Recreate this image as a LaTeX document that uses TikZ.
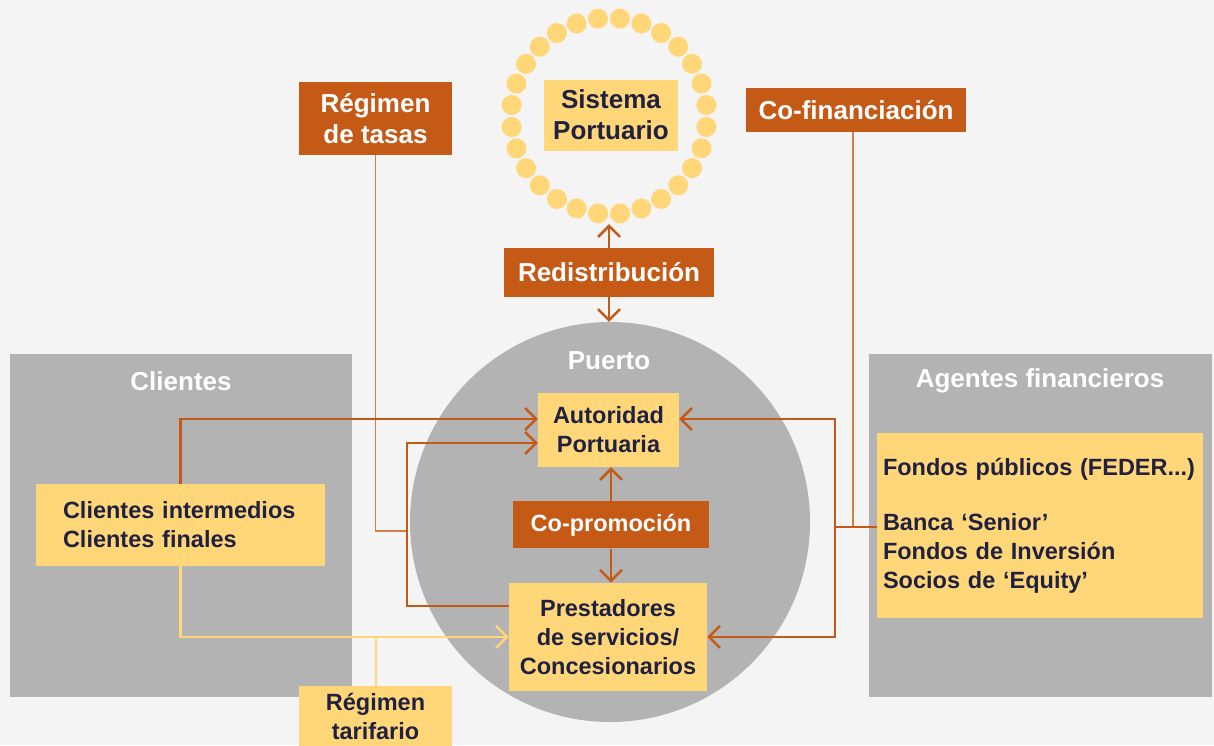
\documentclass[tikz,border=0pt]{standalone}
\usepackage{fontspec}
\setmainfont{Liberation Sans}
\usepackage{tikz}
\usetikzlibrary{arrows.meta,positioning}
\usepackage{xcolor}
\definecolor{cBack}{RGB}{244,244,244}
\definecolor{cPanel}{RGB}{179,179,179}
\definecolor{cYellow}{RGB}{255,215,121}
\definecolor{cOrange}{RGB}{197,90,23}
\definecolor{cThin}{RGB}{214,126,72}
\definecolor{cNavy}{RGB}{32,32,64}
\newcommand{\fBig}{\fontsize{26}{31}\selectfont\bfseries}
\newcommand{\fBase}{\fontsize{23.5}{29}\selectfont\bfseries}
\tikzset{
  basebox/.style={rectangle,inner sep=0pt,align=center,font=\fBase,text=cNavy},
  yelnode/.style={basebox,fill=cYellow},
  orgnode/.style={basebox,fill=cOrange,text=white,font=\fBig},
  panel/.style={rectangle,fill=cPanel,inner sep=0pt},
  title/.style={text=white,font=\fBig},
  arr/.style={-{Straight Barb[length=11pt,width=22pt]},line width=2.5pt,color=cOrange},
  conn/.style={line width=2.5pt,color=cOrange},
  tline/.style={line width=1.6pt,color=cThin},
  yarr/.style={-{Straight Barb[length=11pt,width=22pt]},line width=2.5pt,color=cYellow},
  yline/.style={line width=2pt,color=cYellow}
}
\begin{document}
\begin{tikzpicture}[x=1pt,y=-1pt]

  \useasboundingbox (0,0) rectangle (1214,745);
  \fill[cBack] (0,0) rectangle (1214,745);

  % side panels
  \node[panel,minimum width=342pt,minimum height=343pt] (clp) at (181,525.5) {};
  \node[panel,minimum width=343pt,minimum height=343pt] (agp) at (1040.5,525.5) {};
  \node[title] at (181,381) {Clientes};
  \node[title] at (1040,381) {Agentes financieros};

  % port circle
  \node[circle,fill=cPanel,minimum size=400pt,inner sep=0pt] (pto) at (610,522) {};
  \node[title] at (609,361) {Puerto};

  % port system ring of dots
  \node[circle,minimum size=216pt,inner sep=0pt] (ring) at (609,116) {};
  \foreach \k in {0,...,27}
    \fill[cYellow] (ring.center) ++({96.4+\k*360/28}:98) circle (10pt);
  \node[yelnode,font=\fBig,minimum width=134pt,minimum height=71pt] (sp) at (611,115)
      {Sistema\\Portuario};

  \node[orgnode,minimum width=153pt,minimum height=73pt] (rt) at (375.5,118.5)
      {Régimen\\de tasas};
  \node[orgnode,minimum width=220pt,minimum height=44pt] (cf) at (856,110)
      {Co-financiación};
  \node[orgnode,minimum width=210pt,minimum height=49pt] (rd) at (609,272.5)
      {Redistribución};

  \node[yelnode,minimum width=141pt,minimum height=74pt] (ap) at (608.5,430)
      {Autoridad\\Portuaria};
  \node[orgnode,font=\fBase,minimum width=196pt,minimum height=47pt,
        below=34pt of ap.south,anchor=north,xshift=2.5pt] (cp) {Co-promoción};
  \node[yelnode,minimum width=198pt,minimum height=108pt,
        below=34pt of cp.south,anchor=north,xshift=-3pt] (ps)
      {Prestadores\\de servicios/\\Concesionarios};

  \node[yelnode,align=left,text width=235pt,inner xsep=27pt,minimum height=82pt] (cli)
      at (180.5,525) {Clientes intermedios\\Clientes finales};
  \node[yelnode,align=left,text width=314pt,inner xsep=6pt,minimum height=185pt] (fp)
      at (1040,525.5)
      {Fondos públicos (FEDER...)\\[26pt]
       Banca ‘Senior’\\Fondos de Inversión\\Socios de ‘Equity’};

  \node[yelnode,minimum width=153pt,minimum height=61pt] (rtar) at (375.5,716.5)
      {Régimen\\tarifario};

  % connectors
  \coordinate (lp) at (407,531);
  \coordinate (fj) at (835,527);
  \draw[tline] (rt.south) |- (lp);
  \draw[tline] ([xshift=-3pt]cf.south) -- ([xshift=-3pt]cf.south |- fj);
  \draw[arr] (cli.north) |- ([yshift=11pt]ap.west);
  \draw[arr] ([yshift=31pt]ps.west) -| (lp) |- ([yshift=-13pt]ap.west);
  \draw[yline] (rtar.north) -- (rtar.north |- ps.west);
  \draw[yarr] (cli.south) |- (ps.west);
  \draw[conn] (fp.west |- fj) -- (fj);
  \draw[arr] (fj) |- ([yshift=11pt]ap.east);
  \draw[arr] (fj) |- (ps.east);
  \draw[arr] (rd.north) -- (rd.north |- ring.south);
  \draw[arr] (rd.south) -- (rd.south |- pto.north);
  \draw[arr] (cp.north) -- (cp.north |- ap.south);
  \draw[arr] (cp.south) -- (cp.south |- ps.north);

\end{tikzpicture}
\end{document}
